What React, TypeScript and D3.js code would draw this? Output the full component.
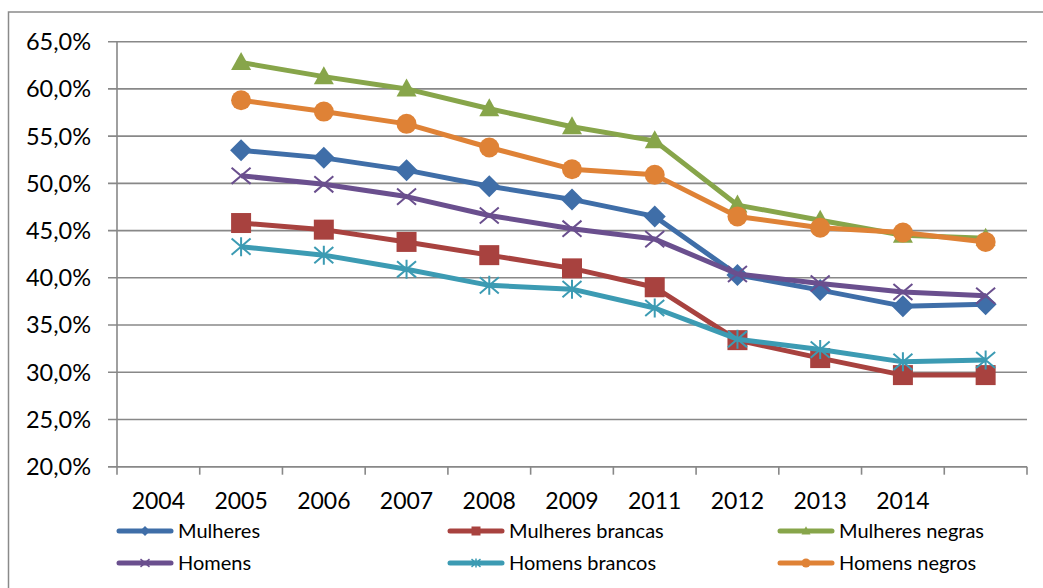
import * as d3 from "d3";
import React from "react";

// x slots as in the original sheet (the last slot has no label)
const years = ["2004", "2005", "2006", "2007", "2008", "2009", "2011", "2012", "2013", "2014", ""];
const yTicks = [20, 25, 30, 35, 40, 45, 50, 55, 60, 65];

const mulheres = [null, 53.5, 52.7, 51.4, 49.7, 48.3, 46.5, 40.3, 38.7, 37.0, 37.2];
const mulheresBrancas = [null, 45.8, 45.1, 43.8, 42.4, 41.0, 39.0, 33.4, 31.5, 29.7, 29.7];
const mulheresNegras = [null, 62.8, 61.3, 60.0, 57.9, 56.0, 54.5, 47.7, 46.1, 44.5, 44.2];
const homens = [null, 50.8, 49.9, 48.6, 46.6, 45.2, 44.1, 40.4, 39.4, 38.5, 38.1];
const homensBrancos = [null, 43.3, 42.4, 40.9, 39.2, 38.8, 36.8, 33.5, 32.4, 31.1, 31.3];
const homensNegros = [null, 58.8, 57.6, 56.3, 53.8, 51.5, 50.9, 46.5, 45.3, 44.8, 43.8];

interface Series {
    name: string;
    values: Array<number | null>;
    color: string;
    marker: string;
}

const series: Array<Series> = [
    { name: "Mulheres", values: mulheres, color: "#3F6EA8", marker: "diamond" },
    { name: "Mulheres brancas", values: mulheresBrancas, color: "#A8423F", marker: "square" },
    { name: "Mulheres negras", values: mulheresNegras, color: "#87A54A", marker: "triangle" },
    { name: "Homens", values: homens, color: "#6A4F8E", marker: "x" },
    { name: "Homens brancos", values: homensBrancos, color: "#3C9BB3", marker: "star" },
    { name: "Homens negros", values: homensNegros, color: "#DF8236", marker: "circle" },
];

const FONT = "Lato, 'Open Sans', sans-serif";

// marker outline centred on 0,0, r = half width
function markerPath(kind: string, r: number) {
    switch (kind) {
        case "diamond":
            return `M0,${-r}L${r},0L0,${r}L${-r},0Z`;
        case "square":
            return `M${-r},${-r}H${r}V${r}H${-r}Z`;
        case "triangle":
            return `M0,${-r * 1.05}L${r},${r * 0.75}L${-r},${r * 0.75}Z`;
        case "circle":
            return d3.symbol(d3.symbolCircle, Math.PI * r * r)() as string;
        case "x":
            return `M${-r},${-r * 0.85}L${r},${r * 0.85}M${-r},${r * 0.85}L${r},${-r * 0.85}`;
        case "star":
            return `M${-r},${-r * 0.85}L${r},${r * 0.85}M${-r},${r * 0.85}L${r},${-r * 0.85}M0,${-r}V${r}`;
    }
    return "";
}

const isStroke = (kind: string) => kind === "x" || kind === "star";

class LineChart extends React.PureComponent<any, any> {
    svgRef: any;

    constructor(props: any) {
        super(props)
        this.svgRef = React.createRef()
    }

    componentDidMount() {
        this.draw()
    }

    draw() {
        const svg = d3.select(this.svgRef.current);
        svg.selectAll("*").remove();

        const left = 117, right = 1027, top = 41.7, bottom = 466.7;

        const x = d3.scaleBand<number>()
            .domain(years.map((_, i) => i))
            .range([left, right]);
        const y = d3.scaleLinear()
            .domain([20, 65])
            .range([bottom, top]);

        // outer border
        svg.append("rect")
            .attr("x", 8.5).attr("y", 12)
            .attr("width", 1060).attr("height", 600)
            .attr("fill", "none")
            .attr("stroke", "#8a8a8a")
            .attr("stroke-width", 1.5);

        // gridlines + y ticks
        svg.append("g")
            .selectAll("line")
            .data(yTicks)
            .enter()
            .append("line")
            .attr("x1", left - 9)
            .attr("x2", right)
            .attr("y1", (d: number) => y(d))
            .attr("y2", (d: number) => y(d))
            .attr("stroke", "#888")
            .attr("stroke-width", 1.6);

        svg.append("g")
            .selectAll("text")
            .data(yTicks)
            .enter()
            .append("text")
            .attr("x", 91)
            .attr("y", (d: number) => y(d))
            .attr("dy", "0.36em")
            .attr("text-anchor", "end")
            .style("font", `23.5px ${FONT}`)
            .attr("fill", "#000")
            .text((d: number) => d.toFixed(1).replace(".", ",") + "%");

        // axes
        svg.append("line")
            .attr("x1", left).attr("x2", left)
            .attr("y1", top).attr("y2", bottom)
            .attr("stroke", "#888").attr("stroke-width", 1.6);
        svg.append("line")
            .attr("x1", left - 9).attr("x2", right)
            .attr("y1", bottom).attr("y2", bottom)
            .attr("stroke", "#888").attr("stroke-width", 1.6);

        const boundaries = d3.range(years.length + 1).map(i => left + i * x.step());
        svg.append("g")
            .selectAll("line")
            .data(boundaries)
            .enter()
            .append("line")
            .attr("x1", (d: number) => d)
            .attr("x2", (d: number) => d)
            .attr("y1", bottom)
            .attr("y2", bottom + 8)
            .attr("stroke", "#888")
            .attr("stroke-width", 1.6);

        svg.append("g")
            .selectAll("text")
            .data(years)
            .enter()
            .append("text")
            .attr("x", (_: string, i: number) => (x(i) as number) + x.bandwidth() / 2)
            .attr("y", 509)
            .attr("text-anchor", "middle")
            .style("font", `23px ${FONT}`)
            .attr("fill", "#000")
            .text((d: string) => d);

        // series
        const line = d3.line<number | null>()
            .defined(d => d !== null)
            .x((_, i) => (x(i) as number) + x.bandwidth() / 2)
            .y(d => y(d as number));

        series.forEach(s => {
            const g = svg.append("g");
            g.append("path")
                .datum(s.values)
                .attr("d", line as any)
                .attr("fill", "none")
                .attr("stroke", s.color)
                .attr("stroke-width", 5)
                .attr("stroke-linejoin", "round");

            const pts = s.values
                .map((v, i) => ({ v, i }))
                .filter(p => p.v !== null);
            const r = s.marker === "diamond" ? 11 : s.marker === "x" || s.marker === "star" ? 9.5 : 10;
            g.selectAll(".mk")
                .data(pts)
                .enter()
                .append("path")
                .attr("class", "mk")
                .attr("transform", (p: any) => `translate(${(x(p.i) as number) + x.bandwidth() / 2},${y(p.v)})`)
                .attr("d", markerPath(s.marker, r))
                .attr("fill", isStroke(s.marker) ? "none" : s.color)
                .attr("stroke", s.color)
                .attr("stroke-width", isStroke(s.marker) ? 2 : 0);
        });

        // legend
        const legendX = [117, 448, 778];
        const legendY = [531, 563];
        series.forEach((s, i) => {
            const col = i % 3, row = Math.floor(i / 3);
            const lx = legendX[col], ly = legendY[row];
            const g = svg.append("g").attr("transform", `translate(${lx},${ly})`);
            g.append("line")
                .attr("x1", 2).attr("x2", 54)
                .attr("y1", 0).attr("y2", 0)
                .attr("stroke", s.color)
                .attr("stroke-width", 5)
                .attr("stroke-linecap", "round");
            g.append("path")
                .attr("transform", "translate(28,0)")
                .attr("d", markerPath(s.marker, s.marker === "diamond" ? 5 : 4.5))
                .attr("fill", isStroke(s.marker) ? "none" : s.color)
                .attr("stroke", s.color)
                .attr("stroke-width", isStroke(s.marker) ? 1.5 : 0);
            g.append("text")
                .attr("x", 61)
                .attr("y", 0)
                .attr("dy", "0.36em")
                .style("font", `20px ${FONT}`)
                .attr("fill", "#000")
                .text(s.name);
        });
    }

    render() {
        return (
            <svg ref={this.svgRef} width={1043} height={588}
                style={{ position: "absolute", left: 0, top: 0, background: "#fff" }} />
        )
    }
}

export default function App() {
    return <LineChart />;
}
